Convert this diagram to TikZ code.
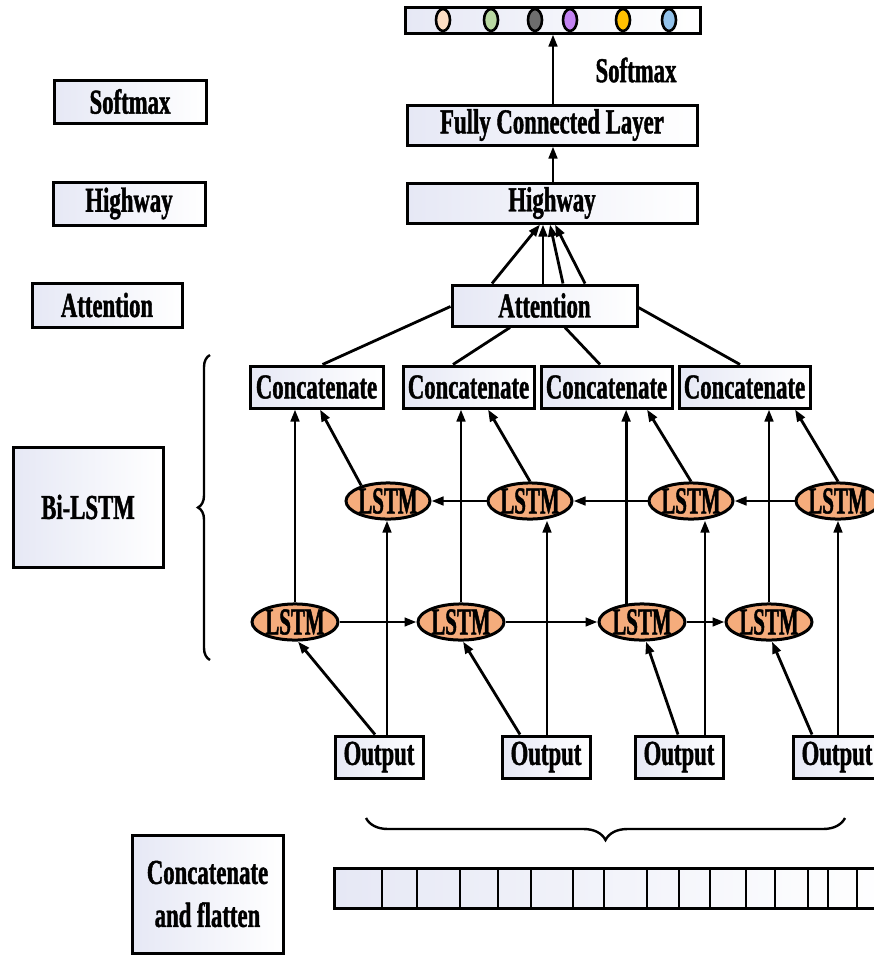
\documentclass[tikz,border=0pt]{standalone}
\usepackage{fontspec}
\usetikzlibrary{arrows.meta,calc,shapes.geometric,decorations.pathreplacing}
\newfontfamily\lblfont[FakeStretch=0.65,FakeBold=1.2]{Liberation Serif}
\newfontfamily\cellfont[FakeStretch=0.55,FakeBold=1.2]{Liberation Serif}
\definecolor{lav}{HTML}{E6E8F5}
\definecolor{cellfill}{HTML}{F5AC7C}
\definecolor{dotA}{HTML}{FBDDC4}
\definecolor{dotB}{HTML}{B9D9A2}
\definecolor{dotC}{HTML}{6E6E6E}
\definecolor{dotD}{HTML}{C383F2}
\definecolor{dotE}{HTML}{FFC000}
\definecolor{dotF}{HTML}{93C2EA}
\begin{document}
\begin{tikzpicture}[x=1pt,y=-1pt,
  box/.style={draw, line width=3pt, left color=lav, right color=white,
    inner sep=0pt, align=center,
    font=\lblfont\bfseries\fontsize{35}{43}\selectfont},
  cell/.style={ellipse, draw, line width=3pt, fill=cellfill, inner sep=0pt,
    minimum width=86pt, minimum height=34pt,
    font=\cellfont\bfseries\fontsize{38}{38}\selectfont},
  arr/.style={line width=2.8pt, -{Triangle[length=12pt,width=8.5pt]}},
  link/.style={line width=2.8pt},
  dot/.style={line width=2.6pt}]
\useasboundingbox (0,0) rectangle (874,956);
\clip (0,0) rectangle (874,956);

% ---- left column labels
\node[box, minimum width=152pt, minimum height=43pt] (lSoft) at (130,101.5) {Softmax};
\node[box, minimum width=152pt, minimum height=43pt] (lHigh) at (129,203.5) {Highway};
\node[box, minimum width=150pt, minimum height=44pt] (lAtt) at (107,305) {Attention};
\node[box, minimum width=150pt, minimum height=120pt] (lBi) at (88,507) {Bi-LSTM};
\node[box, minimum width=151pt, minimum height=118pt] (lCat) at (207.5,894) {Concatenate\\and flatten};

% ---- output probability bar
\node[box, minimum width=295pt, minimum height=26pt] (bar) at (552.5,20) {};
\foreach \x/\c in {443/dotA,491/dotB,535/dotC,570/dotD,623/dotE,669/dotF}
  \draw[dot, fill=\c] (\x,20) ellipse [x radius=7pt, y radius=11pt];
\node[font=\lblfont\bfseries\fontsize{35}{43}\selectfont] (smx) at (636,70) {Softmax};

% ---- top stack
\node[box, minimum width=290pt, minimum height=40pt] (fc) at (552,125) {Fully Connected Layer};
\node[box, minimum width=290pt, minimum height=40pt] (hw) at (552,203) {Highway};
\node[box, minimum width=185pt, minimum height=41pt] (att) at (544.5,305.5) {Attention};

% ---- concatenation boxes
\node[box, minimum width=133pt, minimum height=42pt] (c1) at (316.5,387) {Concatenate};
\node[box, minimum width=131pt, minimum height=42pt] (c2) at (468.5,387) {Concatenate};
\node[box, minimum width=131pt, minimum height=42pt] (c3) at (606.5,387) {Concatenate};
\node[box, minimum width=131pt, minimum height=42pt] (c4) at (744.5,387) {Concatenate};

% ---- backward LSTM cells
\node[cell, minimum width=84pt, minimum height=32pt] (b1) at (388,501) {LSTM};
\node[cell, minimum width=84pt, minimum height=32pt] (b2) at (530,501) {LSTM};
\node[cell, minimum width=84pt, minimum height=32pt] (b3) at (691,501) {LSTM};
\node[cell, minimum width=84pt, minimum height=32pt] (b4) at (838,501) {LSTM};

% ---- forward LSTM cells
\node[cell] (f1) at (295,622) {LSTM};
\node[cell] (f2) at (461,622) {LSTM};
\node[cell] (f3) at (642,622) {LSTM};
\node[cell] (f4) at (769,622) {LSTM};

% ---- inputs
\node[box, minimum width=88pt, minimum height=42pt] (o1) at (379,757) {Output};
\node[box, minimum width=88pt, minimum height=42pt] (o2) at (546,757) {Output};
\node[box, minimum width=88pt, minimum height=42pt] (o3) at (679,757) {Output};
\node[box, minimum width=88pt, minimum height=42pt] (o4) at (837,757) {Output};

% ---- flattened vector
\draw[line width=3pt, left color=lav, right color=white] (334,868) rectangle (890,908);
\foreach \x in {382,417,460,498,531,573,604,647,679,710,746,775,808,828,857}
  \draw[link] (\x,868) -- (\x,908);

% ---- braces
\draw[line width=2.4pt, decorate, decoration={brace, amplitude=12pt}] (210,660) -- (210,355);
\draw[line width=2.4pt, decorate, decoration={brace, amplitude=22pt}] (845,818) -- (366,818);

% ---- top arrows
\draw[arr] ($(fc.north)+(1,0)$) -- ($(bar.south)+(0.5,0)$);
\draw[arr] ($(hw.north)+(1,0)$) -- ($(fc.south)+(1,0)$);
\draw[arr] ($(att.north)+(-52.5,0)$) -- ($(hw.south)+(-12,0)$);
\draw[arr] ($(att.north)+(-1.5,0)$) -- ($(hw.south)+(-9,0)$);
\draw[arr] ($(att.north)+(18.5,0)$) -- ($(hw.south)+(-2,0)$);
\draw[arr] ($(att.north)+(40.5,0)$) -- ($(hw.south)+(3,0)$);

% ---- attention to concatenations
\draw[link] ($(att.west)+(0,1)$) -- ($(c1.north)+(6,0)$);
\draw[link] ($(att.south)+(-34.5,0)$) -- ($(c2.north)+(-15.5,0)$);
\draw[link] ($(att.south)+(20.5,0)$) -- ($(c3.north)+(-6.5,0)$);
\draw[link] ($(att.east)+(0,2)$) -- ($(c4.north)+(-4.5,0)$);

% ---- forward states up to concatenations
\draw[arr] (f1.north) -- (f1.north |- c1.south);
\draw[arr] (f2.north) -- (f2.north |- c2.south);
\draw[arr] (f3.131) -- (f3.131 |- c3.south);
\draw[arr] (f4.north) -- (f4.north |- c4.south);

% ---- backward states up to concatenations
\draw[arr] (b1.150) -- ($(c1.south)+(3.5,0)$);
\draw[arr] (b2.north) -- ($(c2.south)+(19.5,0)$);
\draw[arr] (b3.north) -- ($(c3.south)+(40.5,0)$);
\draw[arr] (b4.north) -- ($(c4.south)+(50.5,0)$);

% ---- recurrent links
\draw[arr] (b4.west) -- (b3.east);
\draw[arr] (b3.west) -- (b2.east);
\draw[arr] (b2.west) -- (b1.east);
\draw[arr] (f1.east) -- (f2.west);
\draw[arr] (f2.east) -- (f3.west);
\draw[arr] (f3.east) -- (f4.west);

% ---- inputs to backward cells
\coordinate (u1) at ($(o1.north)+(8,0)$);
\coordinate (u2) at ($(o2.north)+(1,0)$);
\coordinate (u3) at ($(o3.north)+(26,0)$);
\coordinate (u4) at ($(o4.north)+(1,0)$);
\draw[arr] (u1) -- (u1 |- b1.south);
\draw[arr] (u2) -- (u2 |- b2.south);
\draw[arr] (u3) -- (u3 |- b3.south);
\draw[arr] (u4) -- (u4 |- b4.south);

% ---- inputs to forward cells
\draw[arr] ($(o1.north)+(-4,0)$) -- ($(f1.south)+(3,0)$);
\draw[arr] ($(o2.north)+(-26,0)$) -- ($(f2.south)+(2,0)$);
\draw[arr] ($(o3.north)+(-1,0)$) -- ($(f3.south)+(4,0)$);
\draw[arr] ($(o4.north)+(-25,0)$) -- ($(f4.south)+(3,0)$);
\end{tikzpicture}
\end{document}
